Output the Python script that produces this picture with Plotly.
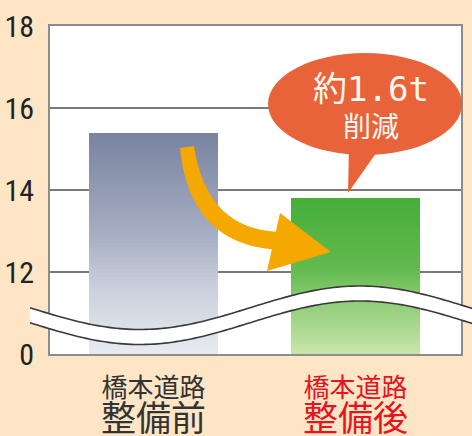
import numpy as np
import plotly.graph_objects as go

# ---- data ----
categories_top = ["橋本道路", "橋本道路"]
categories_bottom = ["整備前", "整備後"]
values = [15.4, 13.8]
label_colors = ["#333333", "#e5141f"]
ytick_vals = [10, 12, 14, 16, 18]
ytick_text = ["0", "12", "14", "16", "18"]
bubble_main = "約1.6t"
bubble_sub = "削減"

# gradient stops (fraction from bottom, colour) per bar
grad_stops = [
    [(0.0, "#e8ebf1"), (0.33, "#c6ccd9"), (0.52, "#a8b0c4"), (1.0, "#79839f")],
    [(0.0, "#c8e5aa"), (0.35, "#8ccb74"), (0.55, "#62ba4e"), (1.0, "#45ae39")],
]

W, H = 472, 436
L, R, T, B = 50, 11, 26, 82
YMIN, YMAX = 10, 18
BAR_W = 0.639


def hex2rgb(h):
    h = h.lstrip("#")
    return np.array([int(h[i:i + 2], 16) for i in (0, 2, 4)], float)


def interp_color(stops, f):
    for (f0, c0), (f1, c1) in zip(stops[:-1], stops[1:]):
        if f <= f1:
            t = (f - f0) / (f1 - f0) if f1 > f0 else 0
            c = hex2rgb(c0) * (1 - t) + hex2rgb(c1) * t
            return "rgb(%d,%d,%d)" % tuple(c.round())
    c = hex2rgb(stops[-1][1])
    return "rgb(%d,%d,%d)" % tuple(c)


fig = go.Figure()

N = 60
for i, v in enumerate(values):
    fr = np.arange(N) / N
    bases = YMIN + (v - YMIN) * fr
    heights = v - bases
    cols = [interp_color(grad_stops[i], f + 0.5 / N) for f in fr]
    fig.add_trace(go.Bar(
        x=[i] * N, y=heights, base=bases, width=BAR_W,
        marker=dict(color=cols, line=dict(width=0)),
        hoverinfo="skip", showlegend=False,
    ))

PW, PH = W - L - R, H - T - B


def px(xp):
    return (xp - L) / PW


def py(yp):
    return (T + PH - yp) / PH


def path(points, close=False):
    s = "M " + " L ".join("%.5f,%.5f" % (px(a), py(b)) for a, b in points)
    return s + (" Z" if close else "")


shapes = []

# curved orange arrow (decoration)
def qbez(p0, c, p2, n=30):
    t = np.linspace(0, 1, n)[:, None]
    p0, c, p2 = map(np.array, (p0, c, p2))
    return (1 - t) ** 2 * p0 + 2 * t * (1 - t) * c + t ** 2 * p2

outer = qbez((180, 148), (190, 248), (284, 250))
inner = qbez((194, 146), (207, 232), (284, 232))[::-1]
shaft = [tuple(p) for p in outer] + [tuple(p) for p in inner]
arrow_col = "#f5a800"
shapes.append(dict(type="path", xref="paper", yref="paper", path=path(shaft, True),
                   fillcolor=arrow_col, line=dict(width=0), layer="above"))
shapes.append(dict(type="path", xref="paper", yref="paper",
                   path=path([(280, 213), (331, 252), (267, 271)], True),
                   fillcolor=arrow_col, line=dict(width=0), layer="above"))

# speech bubble
bub_col = "#e8633a"
shapes.append(dict(type="circle", xref="paper", yref="paper",
                   x0=px(268), x1=px(462), y0=py(155), y1=py(53),
                   fillcolor=bub_col, line=dict(width=0), layer="above"))
shapes.append(dict(type="path", xref="paper", yref="paper",
                   path=path([(349, 146), (379, 149), (348, 193)], True),
                   fillcolor=bub_col, line=dict(width=0), layer="above"))

# broken-axis wave band
xs = np.linspace(30, 476, 120)
yc = 315.25 + 21.75 * np.cos(np.pi * (xs - 140) / 220)
upper = list(zip(xs, yc - 7.5))
lower = list(zip(xs, yc + 7.5))
shapes.append(dict(type="path", xref="paper", yref="paper",
                   path=path(upper + lower[::-1], True),
                   fillcolor="white", line=dict(width=0), layer="above"))
for edge in (upper, lower):
    shapes.append(dict(type="path", xref="paper", yref="paper", path=path(edge),
                       line=dict(color="#3a3a3a", width=1.6), layer="above"))

annotations = []
for i in range(len(values)):
    annotations.append(dict(
        x=i, y=py(404), xref="x", yref="paper",
        text=categories_top[i] + "<br><span style='font-size:35px'>" + categories_bottom[i] + "</span>",
        showarrow=False, xanchor="center", yanchor="middle",
        font=dict(family="Noto Sans CJK JP", size=26, color=label_colors[i])))

annotations.append(dict(
    x=px(371), y=py(107), xref="paper", yref="paper",
    text="<span style='font-size:34px;font-family:DejaVu Sans Mono, Noto Sans CJK JP'>"
         + bubble_main + "</span><br>" + bubble_sub,
    showarrow=False, xanchor="center", yanchor="middle",
    font=dict(family="Noto Sans CJK JP", size=28, color="#fff8f0")))

fig.update_layout(
    width=W, height=H,
    margin=dict(l=L, r=R, t=T, b=B),
    paper_bgcolor="#fde5c6",
    plot_bgcolor="white",
    barmode="overlay",
    bargap=0,
    showlegend=False,
    shapes=shapes,
    annotations=annotations,
    xaxis=dict(range=[-0.512, 1.522], tickvals=[0, 1], showticklabels=False,
               showgrid=False, zeroline=False, showline=True, mirror=True,
               linecolor="#8c8c8c", linewidth=2, fixedrange=True, automargin=False),
    yaxis=dict(range=[YMIN, YMAX], tickvals=ytick_vals, ticktext=ytick_text,
               showgrid=True, gridcolor="#7a7a7a", gridwidth=1.6, zeroline=False,
               showline=True, mirror=True, linecolor="#8c8c8c", linewidth=2,
               ticks="", ticklabelstandoff=8, automargin=False,
               tickfont=dict(family="Liberation Sans Narrow, Roboto Condensed, Roboto", size=30,
                             color="#222222"), fixedrange=True),
)

fig.write_html("out.html", config={"displayModeBar": False},
               post_script="document.body.style.margin='0';document.body.style.padding='0';")
